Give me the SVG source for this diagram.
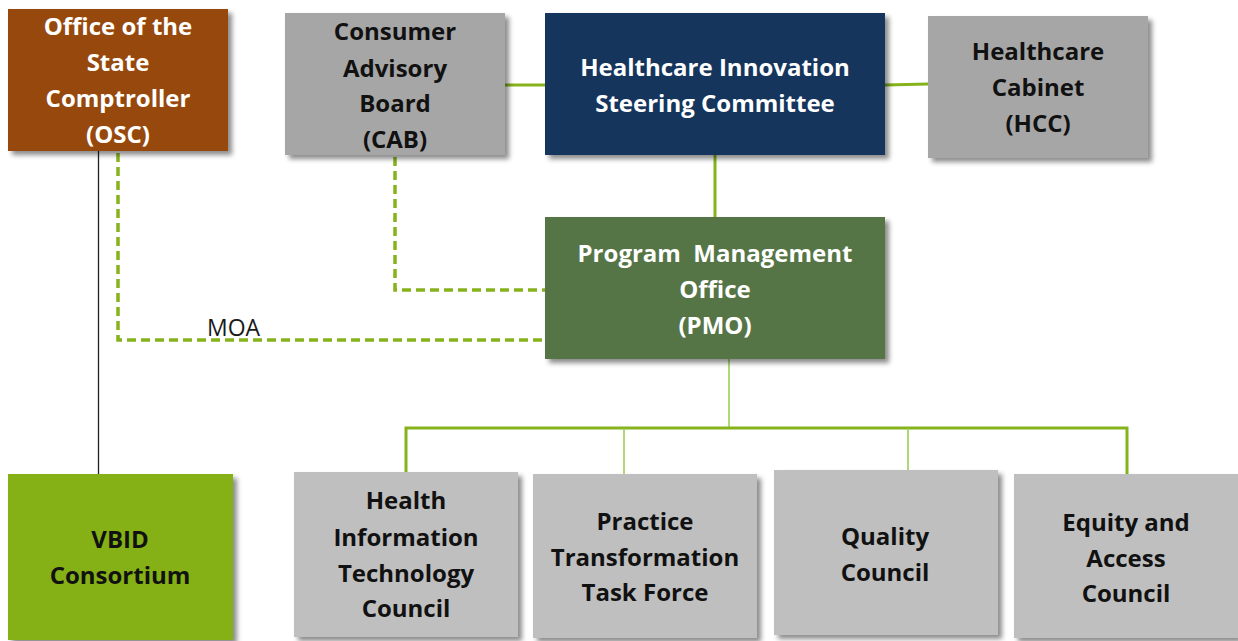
<svg xmlns="http://www.w3.org/2000/svg" width="1238" height="641" viewBox="0 0 1238 641">
  <defs>
    <filter id="shadow" x="-10%" y="-10%" width="130%" height="130%">
      <feDropShadow dx="4" dy="4" stdDeviation="2.5" flood-color="#000" flood-opacity="0.45"/>
    </filter>
  </defs>
  <style>
    .box { filter: url(#shadow); }
    .lbl { font-family: "Open Sans", "Liberation Sans", sans-serif; font-weight: bold; font-size: 24px; text-anchor: middle; }
    .dark { fill: #111; }
    .light { fill: #fff; }
    .solid { fill: none; stroke: #86b21c; stroke-width: 3; }
    .thin { fill: none; stroke: #92cc4a; stroke-width: 1.5; }
    .dash { fill: none; stroke: #86b21c; stroke-width: 3.5; stroke-dasharray: 9 5; }
    .moa { font-family: "Open Sans", "Liberation Sans", sans-serif; font-size: 23px; fill: #1a1a1a; }
  </style>
  <rect width="1238" height="641" fill="#fff"/>

  <!-- connectors -->
  <g id="connectors">
    <line x1="505" y1="85" x2="545" y2="85" class="solid"/>
    <line x1="885" y1="85" x2="928" y2="84" class="solid"/>
    <line x1="715" y1="155" x2="715" y2="217" class="solid"/>
    <line x1="98.5" y1="151" x2="98.5" y2="474" fill="none" stroke="#222" stroke-width="1.3"/>
    <polyline points="118,153 118,340 545,340" class="dash"/>
    <polyline points="395,157 395,290 545,290" class="dash"/>
    <line x1="729" y1="359" x2="729" y2="428" class="thin" stroke="#86b21c"/>
    <polyline points="406,472 406,428 1127,428 1127,474" class="solid"/>
    <line x1="624" y1="428" x2="624" y2="474" class="thin"/>
    <line x1="908" y1="428" x2="908" y2="470" class="thin"/>
    <text x="207" y="336" class="moa">MOA</text>
  </g>

  <g id="osc">
    <rect x="8" y="9" width="220" height="142" fill="#974a0a" class="box"/>
    <text class="lbl light" x="118"><tspan x="118" y="35">Office of the</tspan><tspan x="118" y="71">State</tspan><tspan x="118" y="107">Comptroller</tspan><tspan x="118" y="143">(OSC)</tspan></text>
  </g>

  <g id="cab">
    <rect x="285" y="13" width="220" height="142" fill="#a6a6a6" class="box"/>
    <text class="lbl dark"><tspan x="395" y="40">Consumer</tspan><tspan x="395" y="77">Advisory</tspan><tspan x="395" y="112">Board</tspan><tspan x="395" y="148">(CAB)</tspan></text>
  </g>

  <g id="hisc">
    <rect x="545" y="13" width="340" height="142" fill="#17365d" class="box"/>
    <text class="lbl light"><tspan x="715" y="76">Healthcare Innovation</tspan><tspan x="715" y="112">Steering Committee</tspan></text>
  </g>

  <g id="hcc">
    <rect x="928" y="16" width="220" height="142" fill="#a6a6a6" class="box"/>
    <text class="lbl dark"><tspan x="1038" y="60">Healthcare</tspan><tspan x="1038" y="96">Cabinet</tspan><tspan x="1038" y="132">(HCC)</tspan></text>
  </g>

  <g id="pmo">
    <rect x="545" y="217" width="340" height="142" fill="#577546" class="box"/>
    <text class="lbl light"><tspan x="715" y="262">Program&#160; Management</tspan><tspan x="715" y="298">Office</tspan><tspan x="715" y="334">(PMO)</tspan></text>
  </g>

  <g id="vbid">
    <rect x="8" y="474" width="225" height="166" fill="#85b118" class="box"/>
    <text class="lbl dark"><tspan x="120" y="548">VBID</tspan><tspan x="120" y="584">Consortium</tspan></text>
  </g>

  <g id="hit">
    <rect x="294" y="472" width="224" height="165" fill="#bfbfbf" class="box"/>
    <text class="lbl dark"><tspan x="406" y="509">Health</tspan><tspan x="406" y="546">Information</tspan><tspan x="406" y="582">Technology</tspan><tspan x="406" y="617">Council</tspan></text>
  </g>

  <g id="pttf">
    <rect x="533" y="474" width="224" height="164" fill="#bfbfbf" class="box"/>
    <text class="lbl dark"><tspan x="645" y="530">Practice</tspan><tspan x="645" y="566">Transformation</tspan><tspan x="645" y="601">Task Force</tspan></text>
  </g>

  <g id="quality">
    <rect x="774" y="470" width="224" height="165" fill="#bfbfbf" class="box"/>
    <text class="lbl dark"><tspan x="885" y="545">Quality</tspan><tspan x="885" y="581">Council</tspan></text>
  </g>

  <g id="equity">
    <rect x="1014" y="474" width="224" height="164" fill="#bfbfbf" class="box"/>
    <text class="lbl dark"><tspan x="1126" y="531">Equity and</tspan><tspan x="1126" y="567">Access</tspan><tspan x="1126" y="602">Council</tspan></text>
  </g>
</svg>
